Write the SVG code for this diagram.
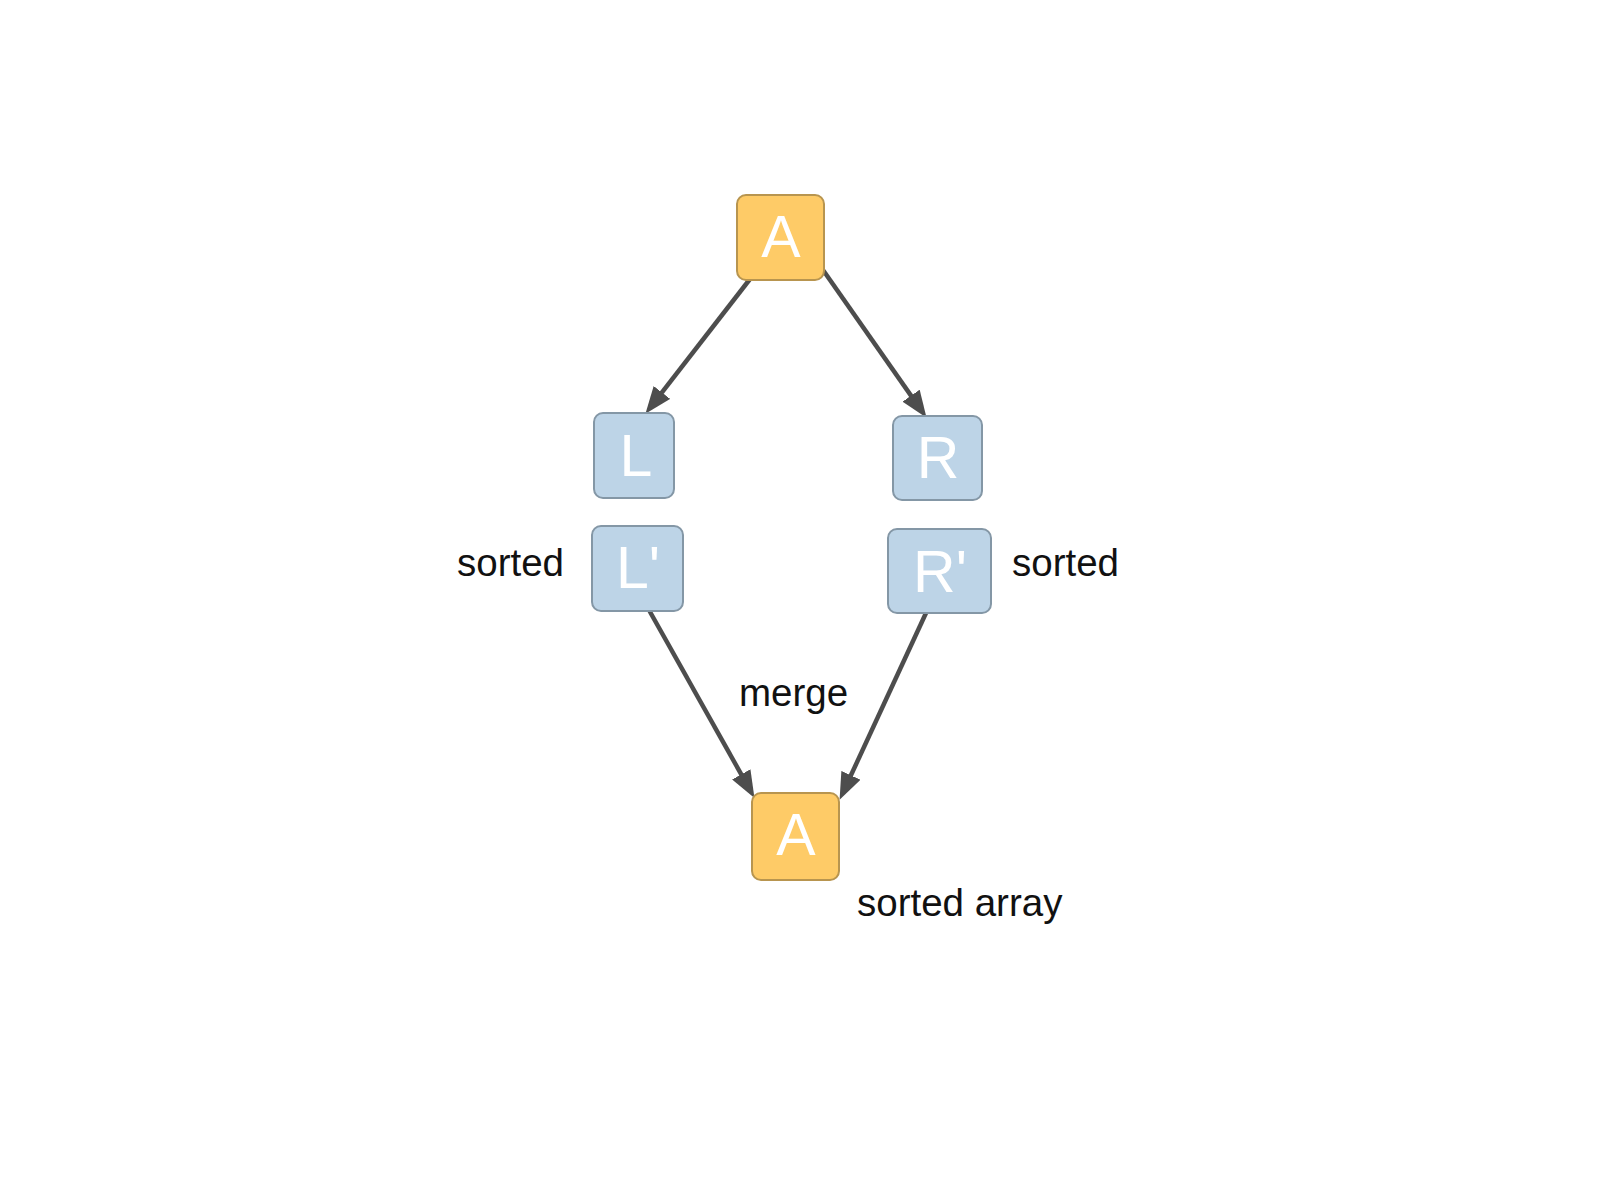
<svg xmlns="http://www.w3.org/2000/svg" width="1608" height="1197" viewBox="0 0 1608 1197">
<style>
.o{fill:#fecb67;stroke:#b8954f;stroke-width:2}
.b{fill:#bdd4e7;stroke:#8497a6;stroke-width:2}
.nt{font-family:"Liberation Sans",Arial,sans-serif;font-size:59px;fill:#ffffff;text-anchor:middle}
.lb{font-family:"Liberation Sans",Arial,sans-serif;font-size:38.5px;fill:#111111}
.e{stroke:#4d4d4d;stroke-width:4.5;fill:none;marker-end:url(#ah)}
</style>
<defs>
<marker id="ah" viewBox="0 0 27 21" refX="6" refY="10.5" markerWidth="27" markerHeight="21" markerUnits="userSpaceOnUse" orient="auto">
<path d="M0,0 L27,10.5 L0,21 z" fill="#4d4d4d"/>
</marker>
</defs>
<rect width="1608" height="1197" fill="#ffffff"/>
<g id="connectors">
<line class="e" x1="750" y1="279" x2="658.3" y2="397.2"/>
<line class="e" x1="823" y1="270" x2="914.5" y2="400.6"/>
<line class="e" x1="649" y1="610" x2="744.2" y2="779.6"/>
<line class="e" x1="926" y1="613" x2="848.4" y2="780.8"/>
</g>
<g id="nodeA1"><rect class="o" x="737" y="195" width="87" height="85" rx="9"/><text class="nt" x="781" y="257">A</text></g>
<g id="nodeL"><rect class="b" x="594" y="413" width="80" height="85" rx="9"/><text class="nt" x="636" y="476">L</text></g>
<g id="nodeR"><rect class="b" x="893" y="416" width="89" height="84" rx="9"/><text class="nt" x="938" y="478">R</text></g>
<g id="nodeL2"><rect class="b" x="592" y="526" width="91" height="85" rx="9"/><text class="nt" x="638" y="588">L'</text></g>
<g id="nodeR2"><rect class="b" x="888" y="529" width="103" height="84" rx="9"/><text class="nt" x="940" y="592">R'</text></g>
<g id="nodeA2"><rect class="o" x="752" y="793" width="87" height="87" rx="9"/><text class="nt" x="796" y="855">A</text></g>
<g id="labels">
<text class="lb" x="457" y="576">sorted</text>
<text class="lb" x="1012" y="576">sorted</text>
<text class="lb" x="739" y="706">merge</text>
<text class="lb" x="857" y="916">sorted array</text>
</g>
</svg>
